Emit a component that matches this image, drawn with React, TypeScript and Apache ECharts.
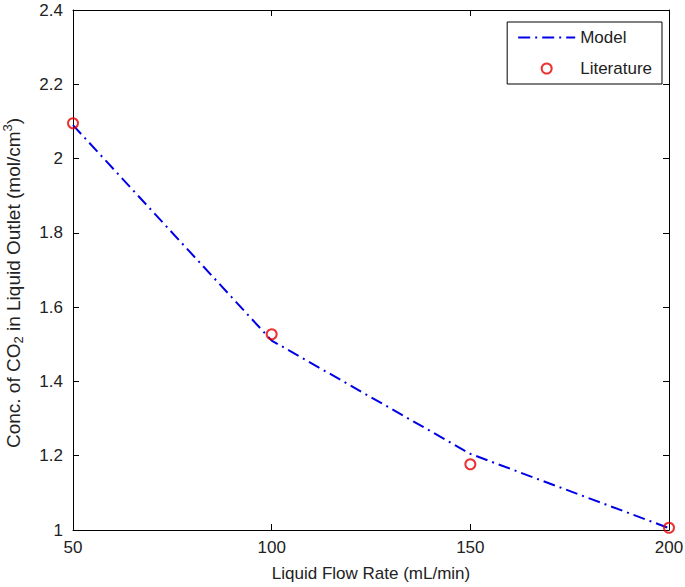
import React, { useEffect, useRef } from "react";
import * as echarts from "echarts";

const flowRates = [50, 100, 150, 200];
const modelValues = [2.09, 1.51, 1.205, 1.005];
const literatureValues = [2.095, 1.527, 1.177, 1.006];
const xTicks = { min: 50, max: 200, interval: 50 };
const yTicks = { min: 1, max: 2.4, interval: 0.2 };
const yAxisTitle = "{a|Conc. of CO}{sub|2}{a| in Liquid Outlet (mol/cm}{sup|3}{a|)}";
const xAxisTitle = "Liquid Flow Rate (mL/min)";

export default function App() {
  const ref = useRef<HTMLDivElement>(null);
  useEffect(() => {
    if (!ref.current) return;
    const chart = echarts.init(ref.current, undefined, { renderer: "svg" });
    const font = "Liberation Sans, Arial, sans-serif";
    const textColor = "#222";
    const fs = 17;
    const yfs = 19;
    const axisCommon = {
      axisLine: { show: true, lineStyle: { color: "#000", width: 1 } },
      splitLine: { show: false },
      axisTick: { show: true, inside: true, length: 6, lineStyle: { color: "#000" } },
    };
    chart.setOption({
      animation: false,
      backgroundColor: "#fff",
      textStyle: { fontFamily: font },
      grid: { left: 73, right: 16, top: 10, bottom: 57, containLabel: false, outerBoundsMode: "none" },
      legend: {
        orient: "vertical",
        right: 23,
        top: 22,
        padding: [7, 10, 7, 10],
        itemGap: 14,
        itemWidth: 57,
        itemHeight: 10,
        borderColor: "#000",
        borderWidth: 1,
        backgroundColor: "#fff",
        borderRadius: 0,
        textStyle: { fontSize: fs, color: textColor, fontFamily: font },
        data: [
          { name: "Model", itemStyle: { opacity: 0 } },
          { name: "Literature", icon: "circle" },
        ],
      },
      graphic: [
        {
          type: "text",
          x: 13,
          y: 283,
          rotation: Math.PI / 2,
          style: {
            text: yAxisTitle,
            align: "center",
            verticalAlign: "middle",
            fill: textColor,
            font: `${yfs}px ${font}`,
            rich: {
              a: { fontSize: yfs, fill: textColor, fontFamily: font, lineHeight: 24, verticalAlign: "middle" },
              sub: { fontSize: 13, fill: textColor, fontFamily: font, lineHeight: 13, verticalAlign: "bottom" },
              sup: { fontSize: 13, fill: textColor, fontFamily: font, lineHeight: 14, verticalAlign: "top" },
            },
          },
        },
      ],
      xAxis: [
        {
          type: "value",
          ...xTicks,
          position: "bottom",
          name: xAxisTitle,
          nameLocation: "middle",
          nameGap: 35,
          nameTextStyle: { fontSize: fs, color: textColor, fontFamily: font },
          axisLabel: { fontSize: fs, color: textColor, margin: 9, fontFamily: font },
          ...axisCommon,
        },
        {
          type: "value",
          ...xTicks,
          position: "top",
          axisLabel: { show: false },
          ...axisCommon,
        },
      ],
      yAxis: [
        {
          type: "value",
          ...yTicks,
          position: "left",
          axisLabel: { fontSize: fs, color: textColor, margin: 10, fontFamily: font },
          ...axisCommon,
        },
        {
          type: "value",
          ...yTicks,
          position: "right",
          axisLabel: { show: false },
          ...axisCommon,
        },
      ],
      series: [
        {
          name: "Model",
          type: "line",
          data: flowRates.map((x, i) => [x, modelValues[i]]),
          symbol: "none",
          lineStyle: { color: "#0000e6", width: 2, type: [12, 5, 2, 5] },
          itemStyle: { color: "#0000e6" },
          z: 2,
        },
        {
          name: "Literature",
          type: "scatter",
          data: flowRates.map((x, i) => [x, literatureValues[i]]),
          symbol: "circle",
          symbolSize: 10,
          itemStyle: { color: "rgba(255,255,255,0)", borderColor: "#e60000", borderWidth: 2 },
          z: 3,
        },
      ],
    });
    return () => chart.dispose();
  }, []);
  return (
    <div
      ref={ref}
      style={{ position: "fixed", left: 0, top: 0, width: 685, height: 587 }}
    />
  );
}
